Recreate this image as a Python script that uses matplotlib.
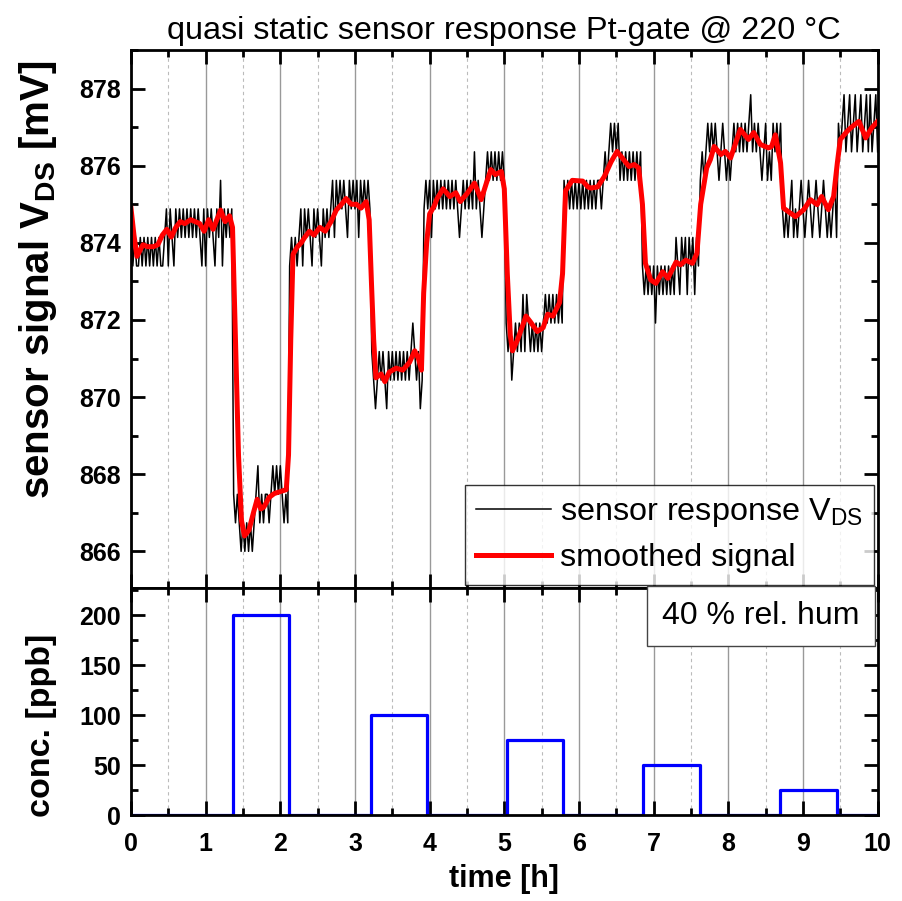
import numpy as np
import matplotlib
matplotlib.use("Agg")
import matplotlib.pyplot as plt
from matplotlib.ticker import MultipleLocator

plt.rcParams["font.family"] = "Liberation Sans"
plt.rcParams["mathtext.fontset"] = "custom"
plt.rcParams["mathtext.rm"] = "Liberation Sans"
plt.rcParams["mathtext.bf"] = "Liberation Sans:bold"

# raw sensor signal V_DS [mV], sampled every 1.5 min from 0 h to 10 h
raw_mv = [
    # 0 h
    874.88, 873.40, 874.14, 873.40, 873.40, 874.14, 873.40, 874.14, 873.40, 874.14,
    873.40, 874.14, 873.40, 874.14, 873.40, 874.14, 873.40, 873.40, 874.14, 874.88,
    873.40, 874.88, 874.14, 873.40, 874.88, 874.14, 874.88, 874.14, 874.88, 874.14,
    874.88, 874.14, 874.88, 874.14, 874.88, 874.14, 874.88, 874.14, 873.40, 874.88,
    # 1 h
    873.40, 874.88, 874.14, 874.88, 874.14, 873.40, 874.88, 874.14, 875.62, 873.40,
    874.88, 874.14, 874.88, 874.14, 874.88, 867.48, 866.74, 867.48, 866.74, 866.00,
    866.74, 866.00, 866.74, 866.00, 866.74, 866.00, 866.74, 867.48, 868.22, 866.74,
    867.48, 866.74, 867.48, 867.48, 866.74, 867.48, 868.22, 867.48, 868.22, 867.48,
    # 2 h
    868.22, 867.48, 866.74, 867.48, 866.74, 873.40, 874.14, 873.40, 874.14, 873.40,
    874.14, 874.88, 873.40, 874.88, 874.14, 874.88, 874.14, 873.40, 874.88, 874.14,
    874.88, 874.14, 873.40, 874.88, 874.14, 874.88, 874.14, 874.88, 875.62, 874.14,
    875.62, 874.88, 875.62, 874.88, 875.62, 874.88, 874.14, 875.62, 874.88, 875.62,
    # 3 h
    874.88, 875.62, 874.14, 875.62, 874.88, 875.62, 874.88, 875.62, 874.88, 871.18,
    870.44, 869.70, 870.44, 871.18, 870.44, 871.18, 870.44, 869.70, 871.18, 870.44,
    871.18, 870.44, 871.18, 870.44, 871.18, 870.44, 871.18, 870.44, 871.18, 870.44,
    871.18, 871.92, 871.18, 870.44, 871.18, 869.70, 870.44, 874.88, 875.62, 874.88,
    # 4 h
    875.62, 874.14, 875.62, 874.88, 875.62, 874.88, 875.62, 874.88, 875.62, 874.88,
    875.62, 874.88, 875.62, 874.88, 875.62, 874.88, 874.14, 874.88, 875.62, 874.88,
    875.62, 874.88, 875.62, 874.88, 876.36, 874.88, 875.62, 874.88, 874.14, 874.88,
    875.62, 876.36, 875.62, 876.36, 875.62, 876.36, 875.62, 876.36, 875.62, 876.36,
    # 5 h
    875.62, 871.92, 871.18, 871.92, 870.44, 871.18, 871.92, 871.18, 871.92, 871.18,
    872.66, 871.18, 872.66, 871.92, 871.18, 871.92, 871.18, 871.92, 871.18, 871.92,
    871.18, 871.92, 872.66, 871.92, 872.66, 871.92, 872.66, 871.92, 872.66, 871.92,
    872.66, 871.92, 875.62, 874.88, 875.62, 874.88, 875.62, 874.88, 875.62, 874.88,
    # 6 h
    875.62, 874.88, 875.62, 874.88, 875.62, 874.88, 875.62, 874.88, 875.62, 874.88,
    875.62, 875.62, 874.88, 875.62, 876.36, 875.62, 876.36, 877.10, 876.36, 877.10,
    876.36, 877.10, 875.62, 876.36, 875.62, 876.36, 875.62, 876.36, 875.62, 876.36,
    875.62, 876.36, 875.62, 876.36, 873.40, 872.66, 873.40, 872.66, 873.40, 872.66,
    # 7 h
    873.40, 871.92, 873.40, 872.66, 873.40, 872.66, 873.40, 872.66, 873.40, 872.66,
    873.40, 872.66, 874.14, 873.40, 872.66, 874.14, 873.40, 874.14, 872.66, 874.14,
    873.40, 874.14, 872.66, 874.14, 873.40, 875.62, 876.36, 875.62, 876.36, 877.10,
    876.36, 877.10, 876.36, 877.10, 876.36, 875.62, 876.36, 877.10, 876.36, 875.62,
    # 8 h
    876.36, 875.62, 876.36, 877.10, 876.36, 877.10, 876.36, 877.10, 876.36, 877.10,
    876.36, 877.10, 877.84, 876.36, 877.10, 876.36, 877.10, 876.36, 875.62, 876.36,
    877.10, 875.62, 876.36, 875.62, 877.10, 876.36, 877.10, 876.36, 877.10, 874.88,
    874.14, 874.88, 874.14, 874.88, 875.62, 874.14, 874.88, 874.14, 874.88, 875.62,
    # 9 h
    874.88, 874.14, 874.88, 875.62, 874.88, 874.14, 874.88, 875.62, 874.88, 874.14,
    874.88, 875.62, 874.88, 874.14, 874.88, 874.14, 874.88, 875.62, 874.14, 877.10,
    876.36, 877.10, 877.84, 876.36, 877.10, 877.84, 876.36, 877.10, 877.84, 876.36,
    877.10, 877.84, 876.36, 877.10, 877.84, 876.36, 877.84, 876.36, 877.10, 877.84,
    # 10 h
    876.36,
]
raw_time = np.linspace(0, 10, len(raw_mv))

# smoothed signal
smooth_time = [
    0.00, 0.04, 0.08, 0.12, 0.16, 0.22, 0.30, 0.36, 0.42, 0.48, 0.54, 0.60, 0.66,
    0.72, 0.80, 0.86, 0.92, 0.98, 1.04, 1.10, 1.16, 1.20, 1.26, 1.32, 1.36, 1.40,
    1.44, 1.48, 1.52, 1.58, 1.64, 1.69, 1.74, 1.78, 1.85, 1.92, 2.00, 2.08, 2.11,
    2.14, 2.17, 2.23, 2.28, 2.33, 2.39, 2.45, 2.53, 2.60, 2.68, 2.75, 2.82, 2.88,
    2.95, 3.02, 3.08, 3.15, 3.19, 3.22, 3.25, 3.28, 3.35, 3.40, 3.46, 3.55, 3.64,
    3.73, 3.80, 3.85, 3.89, 3.92, 3.96, 4.00, 4.06, 4.10, 4.18, 4.27, 4.35, 4.41,
    4.51, 4.60, 4.69, 4.76, 4.82, 4.88, 4.96, 5.00, 5.04, 5.08, 5.11, 5.18, 5.29,
    5.35, 5.44, 5.52, 5.58, 5.65, 5.74, 5.78, 5.82, 5.91, 6.05, 6.12, 6.16, 6.25,
    6.34, 6.43, 6.51, 6.58, 6.67, 6.74, 6.80, 6.85, 6.89, 6.96, 7.03, 7.12, 7.19,
    7.30, 7.36, 7.43, 7.52, 7.58, 7.63, 7.71, 7.76, 7.81, 7.90, 7.96, 8.03, 8.10,
    8.16, 8.27, 8.34, 8.43, 8.54, 8.58, 8.63, 8.70, 8.74, 8.81, 8.90, 9.01, 9.10,
    9.19, 9.25, 9.34, 9.41, 9.46, 9.50, 9.59, 9.65, 9.75, 9.84, 9.92, 10.00,
]
smooth_mv = [
    874.90, 874.20, 873.65, 873.80, 873.95, 873.90, 873.90, 873.95, 874.20, 874.35,
    874.15, 874.40, 874.55, 874.50, 874.60, 874.55, 874.50, 874.30, 874.60, 874.35,
    874.65, 874.85, 874.55, 874.70, 874.40, 871.50, 868.50, 866.80, 866.40, 866.55,
    867.00, 867.35, 867.10, 867.15, 867.40, 867.50, 867.55, 867.60, 868.50, 871.50,
    873.70, 873.90, 874.00, 874.15, 874.30, 874.20, 874.40, 874.30, 874.55, 874.85,
    875.00, 875.15, 875.00, 875.00, 874.90, 875.07, 874.60, 873.00, 871.50, 870.50,
    870.60, 870.40, 870.65, 870.75, 870.70, 870.90, 871.20, 871.00, 870.70, 872.70,
    874.00, 874.75, 874.95, 875.15, 875.40, 875.20, 875.30, 875.07, 875.30, 875.55,
    875.12, 875.55, 875.90, 875.77, 875.85, 875.40, 873.20, 871.60, 871.20, 871.50,
    872.10, 871.95, 871.70, 871.80, 872.15, 872.10, 872.45, 873.20, 875.35, 875.62,
    875.60, 875.45, 875.42, 875.45, 875.72, 876.10, 876.37, 876.20, 875.98, 876.03,
    875.94, 875.00, 873.47, 873.04, 872.95, 873.25, 873.08, 873.50, 873.43, 873.55,
    873.47, 873.73, 875.00, 875.94, 876.16, 876.50, 876.29, 876.37, 876.20, 876.60,
    876.94, 876.68, 876.86, 876.55, 876.46, 876.50, 876.80, 876.07, 874.90, 874.80,
    874.68, 874.86, 875.12, 874.99, 875.20, 874.86, 875.20, 876.07, 876.68, 876.89,
    877.00, 877.15, 876.72, 876.98, 877.15,
]

# gas pulses
pulse_start = [1.36, 3.21, 5.03, 6.86, 8.69]
pulse_end = [2.11, 3.96, 5.79, 7.62, 9.45]
pulse_ppb = [200, 100, 75, 50, 25]

conc_x = [0.0]
conc_y = [0.0]
for s, e, c in zip(pulse_start, pulse_end, pulse_ppb):
    conc_x += [s, s, e, e]
    conc_y += [0, c, c, 0]
conc_x.append(10.0)
conc_y.append(0.0)


def style_axis(ax):
    ax.set_xlim(0, 10)
    ax.xaxis.set_major_locator(MultipleLocator(1))
    ax.xaxis.set_minor_locator(MultipleLocator(0.5))
    ax.tick_params(which="both", direction="in", top=True, right=True,
                   labelsize=18, width=2)
    ax.tick_params(which="major", length=10)
    ax.tick_params(which="minor", length=5)
    for lbl in ax.get_xticklabels() + ax.get_yticklabels():
        lbl.set_fontweight("bold")
    ax.grid(True, which="major", axis="x", color="#999999", lw=1)
    ax.grid(True, which="minor", axis="x", color="#bbbbbb", lw=0.8, ls=(0, (3, 3)))
    ax.set_axisbelow(True)
    for sp in ax.spines.values():
        sp.set_linewidth(2)


fig = plt.figure(figsize=(9.02, 9.01), dpi=100)
ax1 = fig.add_axes([0.1452, 0.3474, 0.8278, 0.5971])
ax2 = fig.add_axes([0.1452, 0.0954, 0.8278, 0.2519])

# Figure top: sensor signal
ax1.plot(raw_time, raw_mv, color="black", lw=1.1,
         label=r"sensor response V$_{\mathrm{DS}}$")
ax1.plot(smooth_time, smooth_mv, color="red", lw=3.6, label="smoothed signal")
ax1.set_ylim(865.05, 879.0)
ax1.yaxis.set_major_locator(MultipleLocator(2))
ax1.yaxis.set_minor_locator(MultipleLocator(1))
style_axis(ax1)
ax1.tick_params(axis="x", labelbottom=False)
ax1.tick_params(axis="y", pad=7)
ax1.set_ylabel(r"sensor signal V$_{\mathbf{DS}}$ [mV]", fontsize=29,
               fontweight="bold")
ax1.yaxis.set_label_coords(-0.097, 0.573)
ax1.set_title("quasi static sensor response Pt-gate @ 220 °C", fontsize=23.3, pad=8)
leg = ax1.legend(loc="lower right", fontsize=23.3, frameon=True, fancybox=False,
                 handlelength=2.3, borderaxespad=0.1, borderpad=0.35,
                 labelspacing=0.45, handletextpad=0.3)
leg.get_frame().set_edgecolor("black")
leg.get_frame().set_linewidth(1)

# Figure bottom: concentration
ax2.plot(conc_x, conc_y, color="blue", lw=2.3)
ax2.set_ylim(0, 227)
ax2.yaxis.set_major_locator(MultipleLocator(50))
ax2.yaxis.set_minor_locator(MultipleLocator(25))
style_axis(ax2)
ax2.tick_params(axis="y", pad=7)
ax2.tick_params(axis="x", pad=12)
ax2.set_ylabel("conc. [ppb]", fontsize=24.5, fontweight="bold")
ax2.yaxis.set_label_coords(-0.099, 0.395)
ax2.set_xlabel("time [h]", fontsize=22, fontweight="bold", labelpad=6)
ax2.text(0.976, 0.877, "40 % rel. hum", transform=ax2.transAxes, fontsize=23,
         ha="right", va="center",
         bbox=dict(boxstyle="square,pad=0.47", fc="white", ec="#444444", lw=1))

plt.savefig("out.png", dpi=100)
